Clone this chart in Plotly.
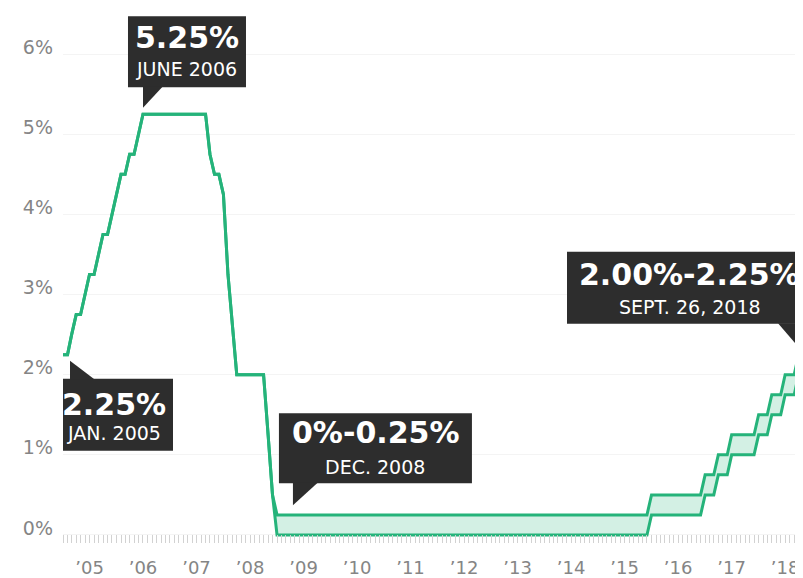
import pandas as pd
import plotly.graph_objects as go

# ---------------- data ----------------
months = pd.date_range("2005-01-01", "2018-10-01", freq="MS")

upper_2005 = [2.25, 2.25, 2.50, 2.75, 2.75, 3.00, 3.25, 3.25, 3.50, 3.75, 3.75, 4.00]
upper_2006 = [4.25, 4.50, 4.50, 4.75, 4.75, 5.00, 5.25, 5.25, 5.25, 5.25, 5.25, 5.25]
upper_2007 = [5.25, 5.25, 5.25, 5.25, 5.25, 5.25, 5.25, 5.25, 5.25, 4.75, 4.50, 4.50]
upper_2008 = [4.25, 3.25, 2.60, 2.00, 2.00, 2.00, 2.00, 2.00, 2.00, 2.00, 1.25, 0.50]
upper_2009_2015 = [0.25] * 84
upper_2016 = [0.50] * 12
upper_2017 = [0.75, 0.75, 0.75, 1.00, 1.00, 1.00, 1.25, 1.25, 1.25, 1.25, 1.25, 1.25]
upper_2018 = [1.50, 1.50, 1.50, 1.75, 1.75, 1.75, 2.00, 2.00, 2.00, 2.25]

lower_2009_2015 = [0.00] * 84
lower_2016 = [0.25] * 12
lower_2017 = [0.50, 0.50, 0.50, 0.75, 0.75, 0.75, 1.00, 1.00, 1.00, 1.00, 1.00, 1.00]
lower_2018 = [1.25, 1.25, 1.25, 1.50, 1.50, 1.50, 1.75, 1.75, 1.75, 2.00]

upper = (upper_2005 + upper_2006 + upper_2007 + upper_2008 + upper_2009_2015
         + upper_2016 + upper_2017 + upper_2018)
lower = (upper_2005 + upper_2006 + upper_2007 + upper_2008 + lower_2009_2015
         + lower_2016 + lower_2017 + lower_2018)

year_ticks = [f"{y}-07-01" for y in range(2005, 2019)]
year_labels = ["’" + str(y)[2:] for y in range(2005, 2019)]
y_ticks = [0, 1, 2, 3, 4, 5, 6]
y_labels = [f"{v}%" for v in y_ticks]

callout_big = ["5.25%", "2.25%", "0%-0.25%", "2.00%-2.25%"]
callout_small = ["JUNE 2006", "JAN. 2005", "DEC. 2008", "SEPT. 26, 2018"]
callout_x = ["2006-07-01", "2005-01-01", "2009-04-01", "2018-10-01"]
callout_y = [5.25, 2.25, 0.25, 2.25]

# ---------------- styles ----------------
GREEN = "#25b37a"
FILL = "rgba(37,179,122,0.2)"
DARK = "#2d2d2d"
FONT = "DejaVu Sans"

fig = go.Figure()
fig.add_trace(go.Scatter(x=months, y=lower, mode="lines",
                         line=dict(color=GREEN, width=3), hoverinfo="skip",
                         showlegend=False))
fig.add_trace(go.Scatter(x=months, y=upper, mode="lines", fill="tonexty",
                         fillcolor=FILL, line=dict(color=GREEN, width=3),
                         hoverinfo="skip", showlegend=False))

# callout geometry in pixels relative to anchor (y up)
geo = [
    dict(box=(-15, 103, 27, 98), tri=[(0, 6.5), (0, 28), (20, 28)], big=(44, 77), small=(44, 45.5)),
    dict(box=(-8, 110, -24, -96), tri=[(7, -6), (7, -25), (32, -25)], big=(51, -49.5), small=(51, -78)),
    dict(box=(-11.3, 181.7, 31.8, 101.8), tri=[(2.7, 9.8), (2.7, 32.5), (27.7, 32.5)], big=(85, 82), small=(85, 47.8)),
    dict(box=(-231.6, 13.4, 30.9, 102.9), tri=[(1.4, 5.9), (1.4, 31.5), (-20.6, 31.5)], big=(-109, 80.5), small=(-109, 47.5)),
]

for i in range(len(callout_big)):
    g = geo[i]
    ax, ay = callout_x[i], callout_y[i]
    x0, x1, y0, y1 = g["box"]
    fig.add_shape(type="rect", xref="x", yref="y", xsizemode="pixel", ysizemode="pixel",
                  xanchor=ax, yanchor=ay, x0=x0, x1=x1, y0=y0, y1=y1,
                  fillcolor=DARK, line=dict(width=0), layer="above")
    p = g["tri"]
    path = f"M{p[0][0]},{p[0][1]} L{p[1][0]},{p[1][1]} L{p[2][0]},{p[2][1]} Z"
    fig.add_shape(type="path", xref="x", yref="y", xsizemode="pixel", ysizemode="pixel",
                  xanchor=ax, yanchor=ay, path=path,
                  fillcolor=DARK, line=dict(width=0), layer="above")
    fig.add_annotation(x=ax, y=ay, xref="x", yref="y", text=f"<b>{callout_big[i]}</b>",
                       showarrow=False, xanchor="center", yanchor="middle",
                       xshift=g["big"][0], yshift=g["big"][1],
                       font=dict(family=FONT, size=30, color="white"))
    fig.add_annotation(x=ax, y=ay, xref="x", yref="y", text=callout_small[i],
                       showarrow=False, xanchor="center", yanchor="middle",
                       xshift=g["small"][0], yshift=g["small"][1],
                       font=dict(family=FONT, size=19, color="white"))

# the page body has an 8px margin, so the figure is sized/offset to compensate
fig.update_layout(
    width=795, height=570,
    margin=dict(l=55, r=0, t=0, b=33, pad=0),
    paper_bgcolor="white", plot_bgcolor="white",
    font=dict(family=FONT, size=18, color="#858585"),
    showlegend=False,
)
fig.update_xaxes(
    range=["2005-01-01", "2018-10-31"],
    tickmode="array", tickvals=year_ticks, ticktext=year_labels,
    ticks="", showgrid=False, zeroline=False, showline=False,
    ticklabelstandoff=12,
    tickfont=dict(family=FONT, size=18, color="#858585"),
    minor=dict(ticks="inside", tickmode="linear", tick0="2005-01-01", dtick="M1",
               ticklen=8, tickwidth=1, tickcolor="#d2d2d2", showgrid=False),
)
fig.update_yaxes(
    range=[-0.1, 6.575],
    tickmode="array", tickvals=y_ticks, ticktext=y_labels,
    ticks="", showgrid=True, gridcolor="#f4f4f4", gridwidth=1,
    zeroline=False, showline=False,
    ticklabelshift=-7, ticklabelstandoff=9,
    tickfont=dict(family=FONT, size=19, color="#858585"),
)

fig.write_html("out.html")
